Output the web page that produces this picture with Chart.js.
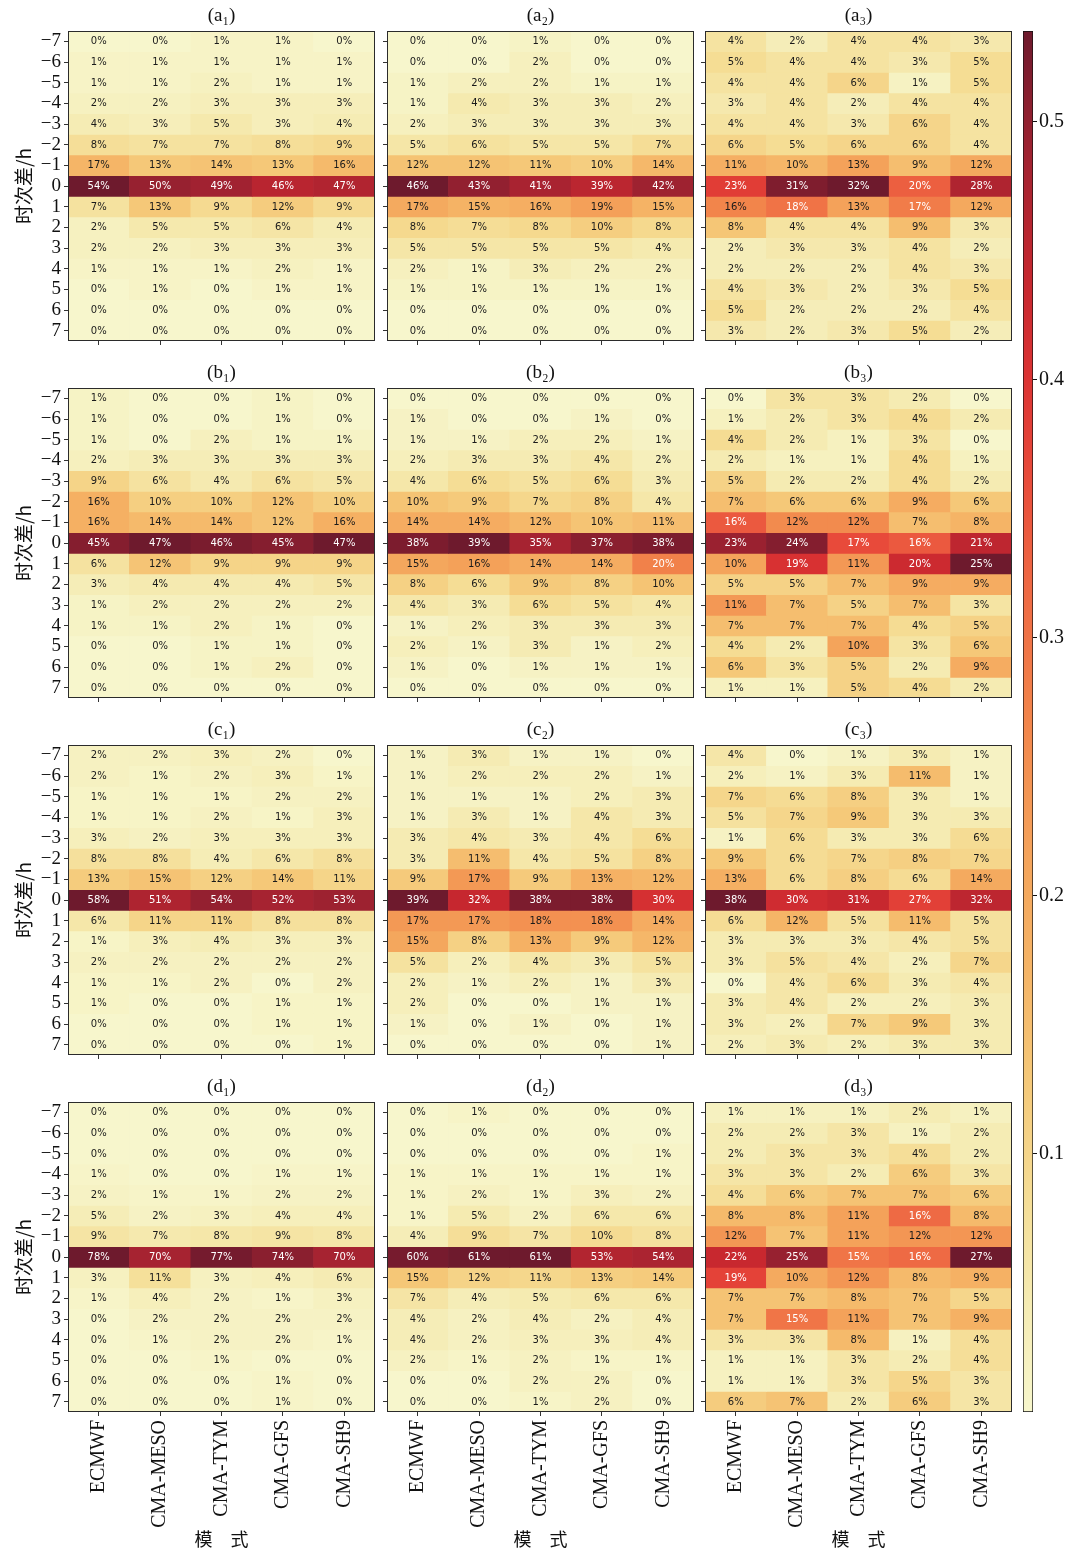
<!DOCTYPE html>
<html>
<head>
<meta charset="utf-8">
<script src="https://cdn.jsdelivr.net/npm/chart.js@4.4.1/dist/chart.umd.min.js"></script>
<style>
html, body { margin: 0; padding: 0; background: #fff; }
#page { position: relative; width: 1071px; height: 1552px; overflow: hidden; }
#page canvas { position: absolute; }
</style>
</head>
<body>
<div id="page"></div>
<script>
var models = ['ECMWF', 'CMA-MESO', 'CMA-TYM', 'CMA-GFS', 'CMA-SH9'];
var hourDiffs = [-7, -6, -5, -4, -3, -2, -1, 0, 1, 2, 3, 4, 5, 6, 7];
var panelTitles = ['(a₁)', '(a₂)', '(a₃)', '(b₁)', '(b₂)', '(b₃)', '(c₁)', '(c₂)', '(c₃)', '(d₁)', '(d₂)', '(d₃)'];
var colorbarTicks = [0.1, 0.2, 0.3, 0.4, 0.5];
var colorbarMax = 0.535;

// percent values, one row per hour difference (-7 .. 7), columns = models
var a1 = [[0,0,1,1,0],[1,1,1,1,1],[1,1,2,1,1],[2,2,3,3,3],[4,3,5,3,4],[8,7,7,8,9],[17,13,14,13,16],
  [54,50,49,46,47],[7,13,9,12,9],[2,5,5,6,4],[2,2,3,3,3],[1,1,1,2,1],[0,1,0,1,1],[0,0,0,0,0],[0,0,0,0,0]];
var a2 = [[0,0,1,0,0],[0,0,2,0,0],[1,2,2,1,1],[1,4,3,3,2],[2,3,3,3,3],[5,6,5,5,7],[12,12,11,10,14],
  [46,43,41,39,42],[17,15,16,19,15],[8,7,8,10,8],[5,5,5,5,4],[2,1,3,2,2],[1,1,1,1,1],[0,0,0,0,0],[0,0,0,0,0]];
var a3 = [[4,2,4,4,3],[5,4,4,3,5],[4,4,6,1,5],[3,4,2,4,4],[4,4,3,6,4],[6,5,6,6,4],[11,10,13,9,12],
  [23,31,32,20,28],[16,18,13,17,12],[8,4,4,9,3],[2,3,3,4,2],[2,2,2,4,3],[4,3,2,3,5],[5,2,2,2,4],[3,2,3,5,2]];
var b1 = [[1,0,0,1,0],[1,0,0,1,0],[1,0,2,1,1],[2,3,3,3,3],[9,6,4,6,5],[16,10,10,12,10],[16,14,14,12,16],
  [45,47,46,45,47],[6,12,9,9,9],[3,4,4,4,5],[1,2,2,2,2],[1,1,2,1,0],[0,0,1,1,0],[0,0,1,2,0],[0,0,0,0,0]];
var b2 = [[0,0,0,0,0],[1,0,0,1,0],[1,1,2,2,1],[2,3,3,4,2],[4,6,5,6,3],[10,9,7,8,4],[14,14,12,10,11],
  [38,39,35,37,38],[15,16,14,14,20],[8,6,9,8,10],[4,3,6,5,4],[1,2,3,3,3],[2,1,3,1,2],[1,0,1,1,1],[0,0,0,0,0]];
var b3 = [[0,3,3,2,0],[1,2,3,4,2],[4,2,1,3,0],[2,1,1,4,1],[5,2,2,4,2],[7,6,6,9,6],[16,12,12,7,8],
  [23,24,17,16,21],[10,19,11,20,25],[5,5,7,9,9],[11,7,5,7,3],[7,7,7,4,5],[4,2,10,3,6],[6,3,5,2,9],[1,1,5,4,2]];
var c1 = [[2,2,3,2,0],[2,1,2,3,1],[1,1,1,2,2],[1,1,2,1,3],[3,2,3,3,3],[8,8,4,6,8],[13,15,12,14,11],
  [58,51,54,52,53],[6,11,11,8,8],[1,3,4,3,3],[2,2,2,2,2],[1,1,2,0,2],[1,0,0,1,1],[0,0,0,1,1],[0,0,0,0,1]];
var c2 = [[1,3,1,1,0],[1,2,2,2,1],[1,1,1,2,3],[1,3,1,4,3],[3,4,3,4,6],[3,11,4,5,8],[9,17,9,13,12],
  [39,32,38,38,30],[17,17,18,18,14],[15,8,13,9,12],[5,2,4,3,5],[2,1,2,1,3],[2,0,0,1,1],[1,0,1,0,1],[0,0,0,0,1]];
var c3 = [[4,0,1,3,1],[2,1,3,11,1],[7,6,8,3,1],[5,7,9,3,3],[1,6,3,3,6],[9,6,7,8,7],[13,6,8,6,14],
  [38,30,31,27,32],[6,12,5,11,5],[3,3,3,4,5],[3,5,4,2,7],[0,4,6,3,4],[3,4,2,2,3],[3,2,7,9,3],[2,3,2,3,3]];
var d1 = [[0,0,0,0,0],[0,0,0,0,0],[0,0,0,0,0],[1,0,0,1,1],[2,1,1,2,2],[5,2,3,4,4],[9,7,8,9,8],
  [78,70,77,74,70],[3,11,3,4,6],[1,4,2,1,3],[0,2,2,2,2],[0,1,2,2,1],[0,0,1,0,0],[0,0,0,1,0],[0,0,0,1,0]];
var d2 = [[0,1,0,0,0],[0,0,0,0,0],[0,0,0,0,1],[1,1,1,1,1],[1,2,1,3,2],[1,5,2,6,6],[4,9,7,10,8],
  [60,61,61,53,54],[15,12,11,13,14],[7,4,5,6,6],[4,2,4,2,4],[4,2,3,3,4],[2,1,2,1,1],[0,0,2,2,0],[0,0,1,2,0]];
var d3 = [[1,1,1,2,1],[2,2,3,1,2],[2,3,3,4,2],[3,3,2,6,3],[4,6,7,7,6],[8,8,11,16,8],[12,7,11,12,12],
  [22,25,15,16,27],[19,10,12,8,9],[7,7,8,7,5],[7,15,11,7,9],[3,3,8,1,4],[1,1,3,2,4],[1,1,3,5,3],[6,7,2,6,3]];

var panels = [a1, a2, a3, b1, b2, b3, c1, c2, c3, d1, d2, d3];

// yellow -> orange -> red -> maroon
var cmapStops = [
  [0.00, [247, 246, 204]], [0.08, [245, 235, 178]], [0.16, [245, 220, 147]], [0.24, [245, 200, 120]],
  [0.32, [245, 180, 102]], [0.40, [244, 164, 91]], [0.50, [242, 133, 75]], [0.60, [238, 104, 67]],
  [0.68, [232, 74, 58]], [0.75, [219, 51, 51]], [0.82, [198, 39, 47]], [0.90, [165, 35, 49]],
  [1.00, [110, 26, 45]]
];
function cmap(t) {
  t = Math.max(0, Math.min(1, t));
  for (var i = 1; i < cmapStops.length; i++) {
    if (t <= cmapStops[i][0]) {
      var s0 = cmapStops[i - 1], s1 = cmapStops[i];
      var f = (t - s0[0]) / (s1[0] - s0[0]);
      var c = s0[1].map(function (v, k) { return Math.round(v + (s1[1][k] - v) * f); });
      return 'rgb(' + c.join(',') + ')';
    }
  }
  return 'rgb(110,26,45)';
}

var serif = '"Liberation Serif", "DejaVu Serif", serif';
var cjk = '"Noto Sans CJK SC", sans-serif';

var colX = [68, 387, 705];
var rowY = [31, 388, 745, 1102];
var plotW = 307, plotH = 310, titleH = 30;

// draws the % in each cell and the frame round the plot
var cellText = {
  id: 'cellText',
  afterDatasetsDraw: function (chart) {
    var ctx = chart.ctx;
    ctx.save();
    ctx.font = '10px "DejaVu Sans", sans-serif';
    ctx.textAlign = 'center';
    ctx.textBaseline = 'middle';
    chart.data.datasets.forEach(function (ds, i) {
      chart.getDatasetMeta(i).data.forEach(function (bar, j) {
        ctx.fillStyle = ds.textColors[j];
        ctx.fillText(ds.pct[j] + '%', bar.x, (bar.y + bar.base) / 2 + 0.5);
      });
    });
    var a = chart.chartArea;
    ctx.strokeStyle = '#2b2b2b';
    ctx.lineWidth = 1;
    ctx.strokeRect(Math.round(a.left) + 0.5, Math.round(a.top) + 0.5, Math.round(a.right - a.left) - 1, Math.round(a.bottom - a.top) - 1);
    ctx.restore();
  }
};

var page = document.getElementById('page');

function makeCanvas(left, top, w, h) {
  var cv = document.createElement('canvas');
  cv.width = w; cv.height = h;
  cv.style.left = left + 'px'; cv.style.top = top + 'px';
  cv.style.width = w + 'px'; cv.style.height = h + 'px';
  page.appendChild(cv);
  return cv;
}

panels.forEach(function (vals, p) {
  var row = Math.floor(p / 3), col = p % 3;
  var padL = col === 0 ? 68 : 8;
  var padB = row === 3 ? 140 : 16;
  var cv = makeCanvas(colX[col] - padL, rowY[row] - titleH, padL + plotW + 2, titleH + plotH + padB);
  var vmax = Math.max.apply(null, vals.map(function (r) { return Math.max.apply(null, r); }));

  var datasets = hourDiffs.map(function (h, r) {
    var t = vals[r].map(function (v) { return v / vmax; });
    return {
      data: models.map(function () { return [h - 0.5, h + 0.5]; }),
      backgroundColor: t.map(cmap),
      pct: vals[r],
      textColors: t.map(function (x) { return x > 0.505 ? '#ffffff' : '#1a1a1a'; }),
      borderWidth: 0,
      grouped: false,
      barPercentage: 1,
      categoryPercentage: 1
    };
  });

  new Chart(cv, {
    type: 'bar',
    data: { labels: models, datasets: datasets },
    options: {
      responsive: false,
      animation: false,
      layout: { padding: { left: 0, right: 2, top: 0, bottom: 0 }, autoPadding: false },
      plugins: {
        legend: { display: false },
        tooltip: { enabled: false },
        title: {
          display: true, text: panelTitles[p], color: '#111', fullSize: false,
          font: { family: serif, size: 19, weight: 'normal', lineHeight: 1.2 },
          padding: { top: 4, bottom: 3.2 }
        }
      },
      scales: {
        x: {
          type: 'category',
          offset: true,
          grid: { display: true, offset: false, drawOnChartArea: false, drawTicks: true, tickLength: 4, color: '#333' },
          border: { display: false },
          ticks: {
            display: row === 3, autoSkip: false, minRotation: 90, maxRotation: 90, padding: 4,
            color: '#111', font: { family: serif, size: 20 }
          },
          title: {
            display: row === 3, text: '模　式', color: '#111',
            font: { family: cjk, size: 18 }, padding: { top: 0, bottom: 2 }
          },
          afterFit: function (scale) { scale.height = padB; }
        },
        y: {
          type: 'linear',
          reverse: true,
          min: -7.5, max: 7.5,
          afterBuildTicks: function (scale) { scale.ticks = hourDiffs.map(function (v) { return { value: v }; }); },
          grid: { display: true, drawOnChartArea: false, drawTicks: true, tickLength: 4, color: '#333' },
          border: { display: false },
          ticks: {
            display: col === 0, autoSkip: false, padding: 3, color: '#111', font: { family: serif, size: 19 },
            callback: function (v) { return v < 0 ? '\u2212' + (-v) : String(v); }
          },
          title: {
            display: col === 0, text: '时次差/h', color: '#111',
            font: { family: cjk, size: 19 }, padding: { top: 12, bottom: 0 }
          },
          afterFit: function (scale) { scale.width = padL; }
        }
      }
    },
    plugins: [cellText]
  });
});

// colour bar
var cbCanvas = makeCanvas(1013, 0, 58, 1552);
new Chart(cbCanvas, {
  type: 'bar',
  data: {
    labels: [''],
    datasets: [{
      data: [[0, colorbarMax]],
      backgroundColor: function (ctx) {
        var area = ctx.chart.chartArea;
        if (!area) return null;
        var g = ctx.chart.ctx.createLinearGradient(0, area.bottom, 0, area.top);
        for (var i = 0; i <= 40; i++) g.addColorStop(i / 40, cmap(i / 40));
        return g;
      },
      borderColor: '#111',
      borderWidth: 1,
      borderSkipped: false,
      barPercentage: 1,
      categoryPercentage: 1
    }]
  },
  options: {
    responsive: false,
    animation: false,
    layout: { padding: { left: 10, right: 0, top: 31, bottom: 140 }, autoPadding: false },
    plugins: { legend: { display: false }, tooltip: { enabled: false } },
    scales: {
      x: { display: false },
      y: {
        position: 'right',
        min: 0, max: colorbarMax,
        afterBuildTicks: function (scale) { scale.ticks = colorbarTicks.map(function (v) { return { value: v }; }); },
        grid: { display: true, drawOnChartArea: false, drawTicks: true, tickLength: 4, color: '#111' },
        border: { display: false },
        ticks: {
          padding: 2, color: '#111', font: { family: serif, size: 20 },
          callback: function (v) { return v.toFixed(1); }
        },
        afterFit: function (scale) { scale.width = 38; }
      }
    }
  }
});
</script>
</body>
</html>
